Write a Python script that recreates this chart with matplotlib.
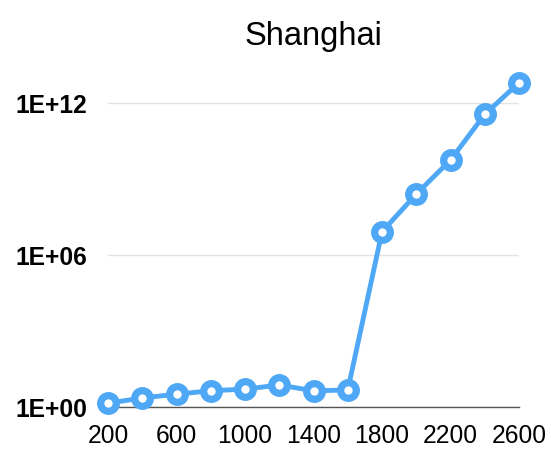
import matplotlib
matplotlib.use("Agg")
import matplotlib.pyplot as plt
from matplotlib.ticker import FixedLocator

plt.rcParams['font.family'] = ['Liberation Sans', 'DejaVu Sans']

# Data
x_vals = [200, 400, 600, 800, 1000, 1200, 1400, 1600, 1800, 2000, 2200, 2400, 2600]
y_vals = [1.4, 2.3, 3.2, 4.4, 5.1, 7.4, 4.4, 4.7, 8.5e6, 2.6e8, 5.8e9, 3.7e11, 6.6e12]
x_ticks = [200, 600, 1000, 1400, 1800, 2200, 2600]
y_ticks = [1, 1e6, 1e12]
y_tick_labels = ['1E+00', '1E+06', '1E+12']

blue = '#4fa8f6'

fig = plt.figure(figsize=(5.51, 4.49), dpi=100)
ax = fig.add_axes([0.196, 0.0935, 0.746, 0.772])

ax.plot(x_vals, y_vals, color=blue, lw=3.5, marker='o', ms=11.3,
        mfc='white', mec=blue, mew=5.2, clip_on=False, zorder=3)

ax.set_yscale('log')
ax.set_xlim(200, 2600)
ax.set_ylim(1, 10 ** 13.7)
ax.yaxis.set_major_locator(FixedLocator(y_ticks))
ax.yaxis.set_minor_locator(FixedLocator([]))
ax.set_yticklabels(y_tick_labels, fontweight='bold', fontsize=17.7)
ax.set_xticks(x_ticks)
ax.set_xticklabels([str(v) for v in x_ticks], fontsize=17.7)
ax.tick_params(axis='y', length=0, pad=15)
ax.tick_params(axis='x', length=0, pad=12)

ax.grid(axis='y', color='#e3e3e3', lw=1)
ax.set_axisbelow(True)
for side in ['top', 'right', 'left']:
    ax.spines[side].set_visible(False)
ax.spines['bottom'].set_color('#555555')
ax.spines['bottom'].set_linewidth(1)

ax.set_title('Shanghai', fontsize=23.5, pad=11)

fig.savefig('out.png', dpi=100)
